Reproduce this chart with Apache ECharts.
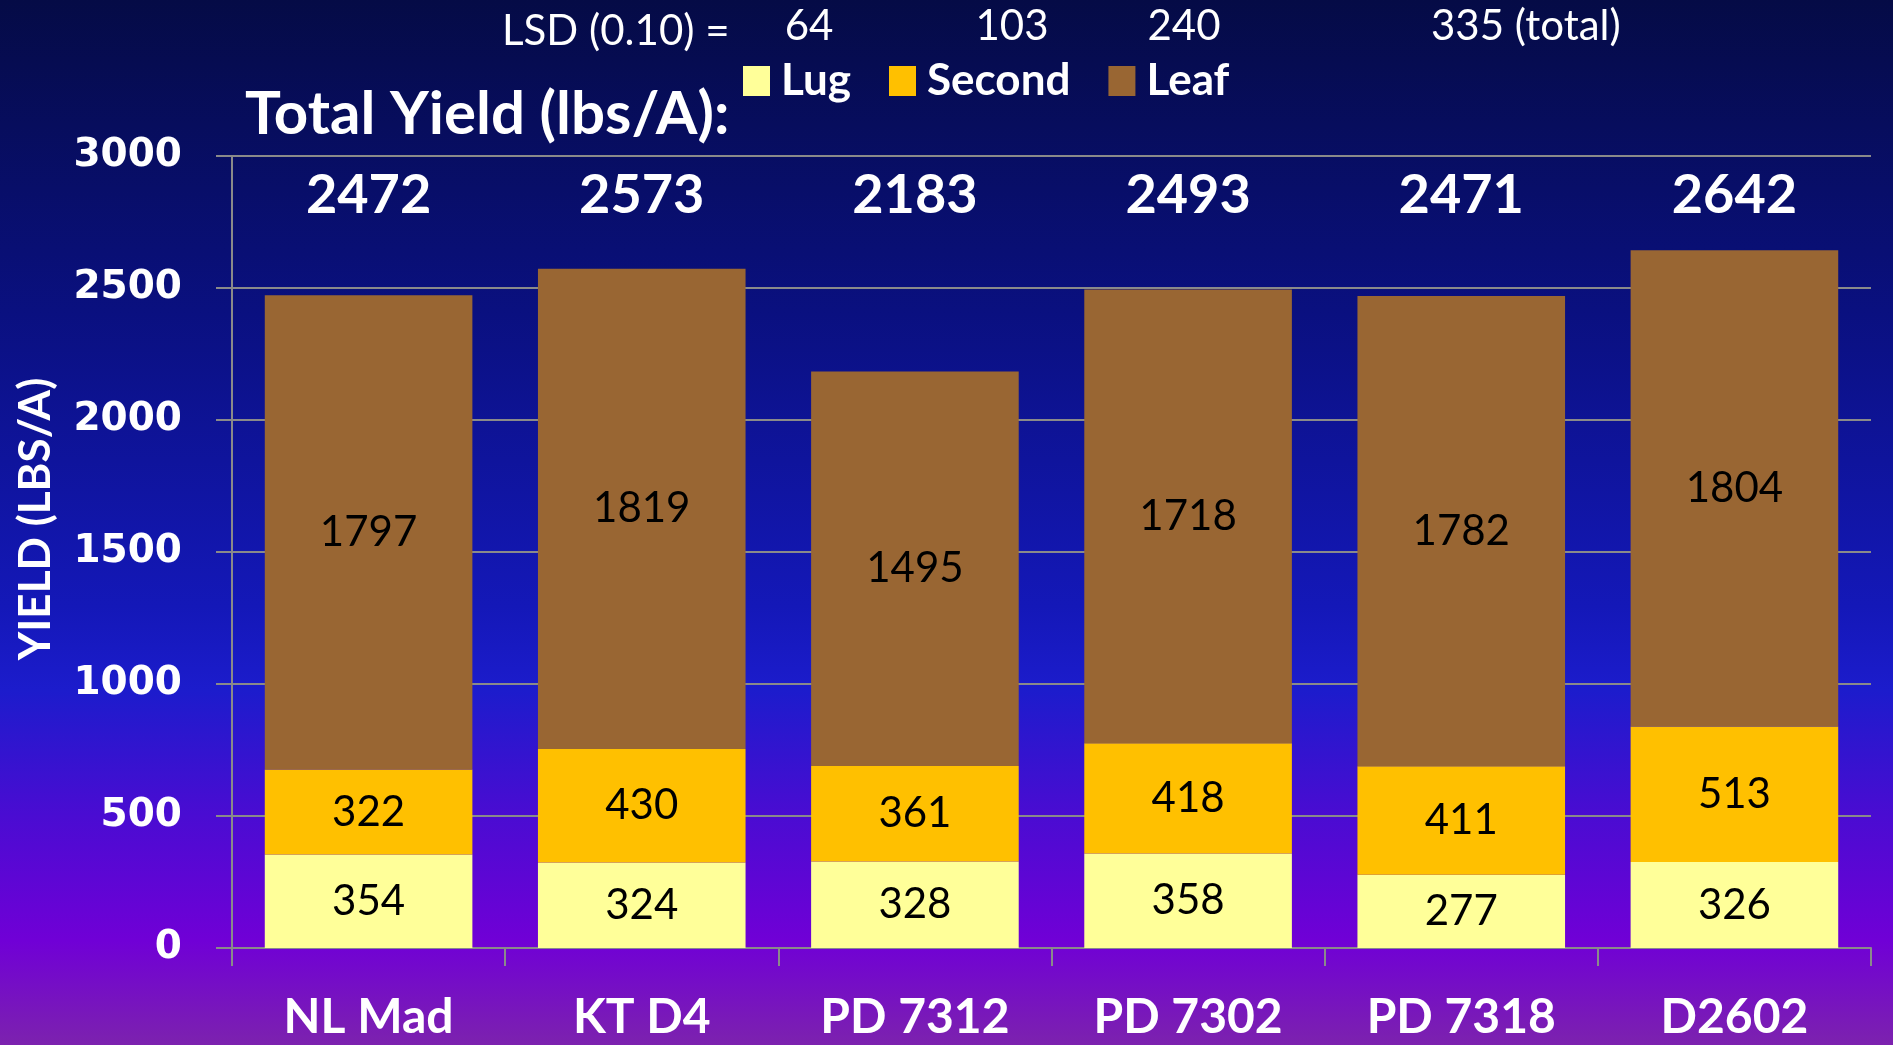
<!DOCTYPE html>
<html>
<head>
<meta charset="utf-8">
<style>
  html, body { margin: 0; padding: 0; }
  #chart { width: 1893px; height: 1045px; }
</style>
<script src="https://cdn.jsdelivr.net/npm/echarts@6/dist/echarts.min.js"></script>
</head>
<body>
<div id="chart"></div>
<script>
var categories = ['NL Mad', 'KT D4', 'PD 7312', 'PD 7302', 'PD 7318', 'D2602'];
var lug = [354, 324, 328, 358, 277, 326];
var second = [322, 430, 361, 418, 411, 513];
var leaf = [1797, 1819, 1495, 1718, 1782, 1804];
var totals = [2472, 2573, 2183, 2493, 2471, 2642];
var yTicks = [0, 500, 1000, 1500, 2000, 2500, 3000];
var lsd = ['64', '103', '240', '335 (total)'];

var chart = echarts.init(document.getElementById('chart'));

// 分段标签
var segLabel = {
    show: true,
    position: 'inside',
    color: '#000',
    fontFamily: 'Lato',
    fontSize: 42
};

var option = {
    backgroundColor: {
        type: 'linear', x: 0, y: 0, x2: 0, y2: 1,
        colorStops: [
            {offset: 0, color: '#050b46'},
            {offset: 0.3, color: '#0a1080'},
            {offset: 0.58, color: '#1418b8'},
            {offset: 0.66, color: '#1c1ccc'},
            {offset: 0.78, color: '#4a0cd2'},
            {offset: 0.9, color: '#7000d6'},
            {offset: 1, color: '#7c22ae'}
        ]
    },
    animation: false,
    title: [
        {
            text: 'LSD (0.10) =',
            left: 497, top: 5,
            textStyle: {color: '#fff', fontFamily: 'Lato', fontWeight: 'normal', fontSize: 42}
        },
        {
            text: 'Total Yield (lbs/A):',
            left: 240, top: 80,
            textStyle: {color: '#fff', fontFamily: 'Lato', fontWeight: 'bold', fontSize: 60}
        }
    ],
    graphic: [
        {type: 'text', x: 809, y: 5, style: {text: lsd[0], fill: '#fff', font: '42px Lato', align: 'center'}},
        {type: 'text', x: 1012, y: 5, style: {text: lsd[1], fill: '#fff', font: '42px Lato', align: 'center'}},
        {type: 'text', x: 1184, y: 5, style: {text: lsd[2], fill: '#fff', font: '42px Lato', align: 'center'}},
        {type: 'text', x: 1431, y: 5, style: {text: lsd[3], fill: '#fff', font: '42px Lato', align: 'left'}},
        {
            type: 'text', x: 36, y: 519, rotation: Math.PI / 2,
            style: {text: 'YIELD (LBS/A)', fill: '#fff', font: 'bold 44px Lato', align: 'center', verticalAlign: 'middle'}
        }
    ],
    legend: {
        data: ['Lug', 'Second', 'Leaf'],
        left: 738, top: 54,
        icon: 'rect',
        itemWidth: 27, itemHeight: 30,
        itemGap: 38,
        textStyle: {color: '#fff', fontFamily: 'Lato', fontWeight: 'bold', fontSize: 44, padding: [0, 0, 0, 6]}
    },
    grid: {left: 232, right: 22, top: 156, bottom: 97},
    xAxis: {
        type: 'category',
        data: categories,
        axisLine: {lineStyle: {color: '#8a8a8a', width: 2}},
        axisTick: {show: true, length: 18, lineStyle: {color: '#8a8a8a', width: 2}},
        axisLabel: {color: '#fff', fontFamily: 'Lato', fontWeight: 'bold', fontSize: 48, margin: 46}
    },
    yAxis: {
        type: 'value',
        min: 0, max: 3000, interval: 500,
        axisLine: {show: true, lineStyle: {color: '#8a8a8a', width: 2}},
        axisTick: {show: true, length: 16, lineStyle: {color: '#8a8a8a', width: 2}},
        splitLine: {lineStyle: {color: '#8a8a8a', width: 2}},
        axisLabel: {
            color: '#fff', fontFamily: 'DejaVu Sans', fontWeight: 'bold', fontSize: 39, margin: 50,
            formatter: function (v) { return yTicks.indexOf(v) >= 0 ? String(v) : ''; }
        }
    },
    series: [
        {
            name: 'Lug', type: 'bar', stack: 'yield', data: lug,
            barCategoryGap: '24%',
            itemStyle: {color: '#ffff99'},
            label: segLabel
        },
        {
            name: 'Second', type: 'bar', stack: 'yield', data: second,
            itemStyle: {color: '#ffc000'},
            label: segLabel
        },
        {
            name: 'Leaf', type: 'bar', stack: 'yield', data: leaf,
            itemStyle: {color: '#996633'},
            label: segLabel
        },
        {
            // 总产量标签行
            name: 'Total', type: 'scatter',
            data: categories.map(function (c) { return [c, 2850]; }),
            symbolSize: 0,
            silent: true,
            itemStyle: {opacity: 1},
            label: {
                show: true, position: 'inside', opacity: 1,
                color: '#fff', fontFamily: 'Lato', fontWeight: 'bold', fontSize: 54,
                formatter: function (p) { return String(totals[p.dataIndex]); }
            }
        }
    ]
};

chart.setOption(option);
window.onresize = chart.resize;
</script>
</body>
</html>
